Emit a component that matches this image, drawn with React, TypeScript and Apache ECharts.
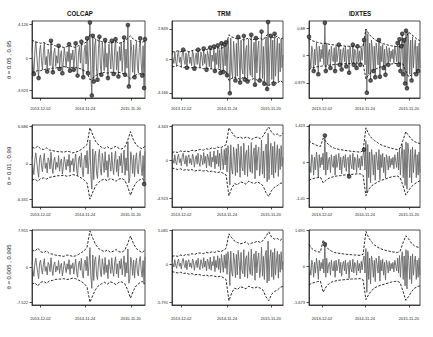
import React, { useEffect, useRef } from "react";
import * as echarts from "echarts";

const columnTitles = ["COLCAP", "TRM", "IDXTES"];
const rowTitles = ["θ = 0.05 , 0.95", "θ = 0.01 , 0.99", "θ = 0.005 , 0.995"];
const xTickLabels = ["2013-12-02", "2014-11-24", "2015-11-20"];
const xTickIndex = [[9, 56, 104], [10, 59, 106], [14, 60, 107]];

// y tick values [top, bottom] per row, per column
const yTicks = [
  [[4.126, -3.923], [2.849, -3.166], [0.88, -0.879]],
  [[6.686, -6.331], [4.343, -4.923], [1.423, -1.41]],
  [[7.951, -7.522], [5.081, -5.791], [1.691, -1.673]],
];

const colcapReturns = [
  1.3, -0.6, -1.9, 0.8, 2.0, 0.4, -1.1, -2.4, 0.9, 1.6,
  -0.3, -1.4, 0.7, 1.9, -0.8, 0.2, -1.6, 1.1, 0.5, -0.9,
  2.1, -0.4, -1.7, 0.6, 1.2, -1.0, 0.3, -0.6, 1.5, -1.3,
  0.4, 0.9, -1.8, -0.5, 1.3, 0.2, -1.1, 0.8, -0.4, 1.7,
  -1.5, 0.6, -0.2, 1.0, -1.4, 0.3, 1.8, -0.9, -2.1, 0.7,
  1.4, -0.6, 2.0, -1.2, -2.3, 0.9, 1.6, -0.7, 2.4, -1.8,
  0.5, 4.3, -1.9, -4.5, 2.7, -2.8, 1.5, 2.3, -1.6, -2.6,
  1.2, 2.6, -0.8, -2.0, 1.9, 0.4, -1.5, 2.2, -1.1, 0.6,
  -2.4, 1.7, 0.3, -1.3, 2.1, -0.5, -1.9, 1.0, 2.3, -1.4,
  0.8, -2.2, 1.4, -0.3, 1.9, -1.6, 0.5, 2.5, -2.0, 1.1,
  -1.2, 4.0, -3.4, -2.5, 2.2, 0.9, -1.7, 1.6, -2.3, 0.7,
  2.0, -1.0, -1.8, 1.3, 2.4, -0.6, -2.1, 1.5, -3.6, 2.3,
];
const trmReturns = [
  0.5, 0.1, -0.4, 0.7, -0.2, -0.6, 0.4, 0.8, -0.3, 0.2,
  -0.7, 0.5, 0.9, -0.1, -0.5, 0.6, -0.8, 0.3, 0.7, -0.4,
  0.2, -0.6, 0.8, 0.4, -0.9, 0.1, 0.6, -0.5, 0.9, -0.3,
  -0.8, 0.7, 0.2, -0.6, 1.0, -0.4, 0.5, -1.0, 0.8, 0.3,
  -0.7, 1.1, -0.9, 0.4, -0.2, 1.2, -1.1, 0.6, -0.5, 1.3,
  -0.8, 0.9, -1.3, 1.5, 0.2, -1.2, 1.4, -0.6, 1.6, -1.5,
  1.9, 0.6, -3.2, 2.0, -1.1, -1.8, 1.7, 0.5, -2.0, 1.5,
  -1.6, 2.1, 0.4, -2.2, 1.8, -0.9, -1.4, 2.2, -1.9, 0.8,
  1.3, -2.1, 1.9, -0.7, -1.5, 2.3, -1.7, 0.6, 1.6, -2.4,
  2.0, -1.3, 0.9, 1.7, -2.0, -0.6, 2.6, -1.8, 1.2, -2.3,
  1.4, 2.1, -2.8, 3.5, -2.5, 0.7, 2.2, -1.9, 1.8, -2.3,
  2.4, -1.6, 0.5, 2.0, -2.1, 1.5, -1.2, 1.9, -0.8, 0.4,
];
const idxtesReturns = [
  0.6, -0.1, -0.4, 0.3, 0.1, -0.5, 0.2, -0.3, 0.4, 0.05,
  -0.6, 0.3, -0.2, 0.2, -0.1, 0.35, -0.3, 1.05, -0.5, 0.4,
  -0.3, 0.1, 0.2, -0.4, 0.3, -0.1, -0.2, 0.25, -0.5, 0.3,
  -0.2, 0.05, 0.35, -0.3, 0.2, -0.45, 0.1, 0.25, -0.2, 0.3,
  -0.35, 0.15, 0.2, -0.55, 0.3, -0.1, -0.25, 0.35, -0.3, 0.2,
  0.1, -0.4, 0.3, -0.2, 0.15, -0.3, 0.25, -0.15, 0.3, 0.5,
  -0.3, 0.85, -1.2, 0.7, -0.6, 0.4, -0.8, 0.5, 0.2, -0.5,
  0.3, -0.7, 0.4, 0.1, -0.3, 0.5, -0.68, 0.3, -0.2, 0.35,
  -0.4, 0.2, -0.62, 0.3, 0.1, -0.3, 0.25, -0.2, 0.15, -0.1,
  0.2, -0.25, 0.3, 0.05, -0.2, 0.4, -0.3, 0.52, -0.5, 0.3,
  0.7, -0.6, 0.5, -0.9, 0.8, -1.05, 0.75, 0.3, -0.6, 0.5,
  -0.8, 0.6, -0.4, 0.2, 0.5, -0.6, 0.3, -0.5, 0.4, -0.4,
];

// bands, row 1 (0.05, 0.95)
const colcapUpper1 = [2.2, 2.0, 1.9, 1.8, 1.9, 1.7, 1.6, 1.7, 1.5, 1.4, 1.4, 1.3, 1.4, 1.5, 1.4, 1.3, 1.5, 1.6, 1.8, 2.0, 2.9, 2.6, 2.3, 2.1, 2.0, 1.9, 2.0, 1.8, 1.9, 2.0, 1.8, 1.9, 2.1, 2.4, 2.7, 2.3, 2.1, 2.0, 1.9, 2.1];
const colcapLower1 = [-1.7, -1.6, -1.5, -1.5, -1.4, -1.3, -1.3, -1.2, -1.2, -1.1, -1.1, -1.0, -1.1, -1.2, -1.1, -1.1, -1.2, -1.3, -1.5, -1.7, -2.6, -2.4, -2.1, -1.9, -1.8, -1.7, -1.8, -1.7, -1.7, -1.8, -1.7, -1.8, -1.9, -2.2, -2.5, -2.2, -2.0, -1.9, -1.8, -2.0];
const trmUpper1 = [0.7, 0.7, 0.8, 0.7, 0.8, 0.8, 0.7, 0.8, 0.9, 0.8, 0.9, 0.8, 0.9, 1.0, 0.9, 1.0, 1.1, 1.0, 1.1, 1.3, 2.3, 2.1, 2.0, 1.9, 2.0, 1.8, 1.9, 2.0, 1.8, 1.9, 1.9, 2.0, 1.8, 2.2, 2.4, 2.1, 2.0, 2.2, 1.9, 2.0];
const trmLower1 = [-0.7, -0.7, -0.6, -0.7, -0.8, -0.7, -0.8, -0.8, -0.7, -0.8, -0.8, -0.9, -0.8, -0.9, -0.9, -1.0, -0.9, -1.0, -1.1, -1.2, -2.0, -1.8, -1.7, -1.8, -1.9, -1.7, -1.8, -2.0, -1.9, -1.8, -2.0, -1.9, -2.1, -2.3, -2.5, -2.2, -2.1, -2.3, -2.0, -2.2];
const idxtesUpper1 = [0.55, 0.48, 0.45, 0.42, 0.40, 0.38, 0.40, 0.36, 0.35, 0.34, 0.33, 0.32, 0.31, 0.30, 0.30, 0.29, 0.28, 0.28, 0.27, 0.30, 0.85, 0.70, 0.60, 0.52, 0.46, 0.42, 0.38, 0.36, 0.33, 0.31, 0.30, 0.29, 0.28, 0.30, 0.55, 0.75, 0.68, 0.60, 0.52, 0.48];
const idxtesLower1 = [-0.45, -0.40, -0.38, -0.36, -0.35, -0.33, -0.34, -0.31, -0.30, -0.29, -0.28, -0.28, -0.27, -0.26, -0.26, -0.25, -0.25, -0.24, -0.24, -0.27, -0.75, -0.62, -0.53, -0.46, -0.41, -0.37, -0.34, -0.31, -0.29, -0.27, -0.26, -0.25, -0.24, -0.27, -0.50, -0.68, -0.62, -0.55, -0.48, -0.44];

// bands, row 2 (0.01, 0.99)
const colcapUpper2 = [3.0, 2.8, 3.2, 2.7, 2.6, 2.9, 2.5, 2.4, 2.3, 2.2, 2.2, 2.1, 2.3, 2.2, 2.0, 2.1, 2.3, 2.6, 3.0, 3.5, 6.5, 5.2, 4.0, 3.4, 3.0, 2.8, 3.1, 2.7, 2.9, 3.2, 2.8, 2.7, 3.0, 4.2, 5.8, 4.3, 3.4, 3.0, 2.7, 3.2];
const colcapLower2 = [-2.9, -2.7, -3.1, -2.6, -2.5, -2.7, -2.4, -2.3, -2.2, -2.1, -2.1, -2.0, -2.2, -2.1, -1.9, -2.0, -2.2, -2.5, -2.9, -3.4, -6.3, -5.0, -3.9, -3.3, -2.9, -2.7, -3.0, -2.6, -2.8, -3.1, -2.7, -2.6, -2.9, -4.0, -5.6, -4.2, -3.3, -2.9, -2.6, -3.1];
const trmUpper2 = [1.0, 1.1, 1.0, 1.2, 1.1, 1.2, 1.1, 1.3, 1.2, 1.3, 1.4, 1.3, 1.5, 1.4, 1.6, 1.5, 1.7, 1.6, 1.8, 2.0, 4.2, 3.6, 3.1, 2.9, 3.0, 2.8, 3.0, 2.9, 2.7, 2.9, 3.0, 2.8, 3.1, 3.8, 4.3, 3.6, 3.3, 3.4, 3.1, 3.5];
const trmLower2 = [-1.0, -1.1, -1.2, -1.1, -1.3, -1.2, -1.3, -1.2, -1.4, -1.3, -1.3, -1.4, -1.3, -1.5, -1.4, -1.5, -1.6, -1.5, -1.7, -1.9, -4.6, -3.6, -3.0, -3.2, -2.8, -2.9, -3.1, -2.7, -2.9, -3.0, -2.8, -3.0, -3.3, -4.2, -4.7, -3.9, -3.5, -3.3, -3.0, -2.9];
const idxtesUpper2 = [0.85, 0.75, 0.70, 0.65, 0.62, 0.95, 0.80, 0.68, 0.60, 0.55, 0.52, 0.50, 0.48, 0.46, 0.45, 0.43, 0.42, 0.41, 0.40, 0.45, 1.35, 1.10, 0.95, 0.85, 0.78, 0.70, 0.65, 0.62, 0.58, 0.55, 0.52, 0.50, 0.55, 0.85, 1.20, 1.05, 0.90, 0.82, 0.76, 0.74];
const idxtesLower2 = [-0.70, -0.65, -0.62, -0.60, -0.58, -0.80, -0.70, -0.62, -0.58, -0.55, -0.53, -0.52, -0.50, -0.49, -0.48, -0.47, -0.46, -0.45, -0.45, -0.50, -1.30, -1.05, -0.92, -0.84, -0.78, -0.72, -0.68, -0.65, -0.60, -0.57, -0.55, -0.53, -0.60, -0.90, -1.28, -1.10, -0.95, -0.85, -0.78, -0.72];

// bands, row 3 (0.005, 0.995)
const colcapUpper3 = [3.8, 3.5, 4.2, 3.4, 3.2, 3.6, 3.0, 2.9, 2.7, 2.6, 2.5, 2.4, 2.7, 2.6, 2.4, 2.5, 2.8, 3.2, 3.6, 4.4, 7.9, 6.3, 4.9, 4.1, 3.7, 3.4, 3.8, 3.3, 3.5, 3.9, 3.4, 3.3, 3.7, 5.1, 6.8, 5.2, 4.1, 3.6, 3.2, 3.8];
const colcapLower3 = [-3.6, -3.3, -4.0, -3.2, -3.0, -3.4, -2.9, -2.8, -2.6, -2.5, -2.5, -2.4, -2.6, -2.5, -2.3, -2.4, -2.7, -3.0, -3.5, -4.2, -7.5, -6.0, -4.7, -3.9, -3.5, -3.2, -3.6, -3.1, -3.3, -3.7, -3.2, -3.1, -3.5, -4.8, -6.6, -5.0, -3.9, -3.4, -3.0, -3.6];
const trmUpper3 = [1.2, 1.3, 1.2, 1.4, 1.3, 1.5, 1.4, 1.6, 1.5, 1.7, 1.7, 1.6, 1.8, 1.7, 1.9, 1.8, 2.0, 1.9, 2.1, 2.4, 4.6, 4.0, 3.5, 3.3, 3.1, 3.2, 3.4, 3.0, 3.2, 3.3, 3.5, 3.3, 3.6, 4.2, 4.9, 4.1, 3.8, 3.9, 3.6, 4.0];
const trmLower3 = [-1.1, -1.2, -1.3, -1.2, -1.4, -1.3, -1.5, -1.4, -1.6, -1.5, -1.6, -1.7, -1.6, -1.8, -1.7, -1.8, -1.9, -1.8, -2.0, -2.3, -5.5, -4.3, -3.6, -3.8, -3.4, -3.5, -3.7, -3.3, -3.5, -3.6, -3.4, -3.6, -3.9, -4.9, -5.5, -4.5, -4.1, -3.9, -3.5, -3.3];
const idxtesUpper3 = [1.05, 0.85, 0.75, 0.70, 0.68, 1.25, 0.95, 0.80, 0.72, 0.66, 0.64, 0.62, 0.60, 0.58, 0.57, 0.56, 0.55, 0.54, 0.53, 0.58, 1.65, 1.35, 1.15, 1.02, 0.92, 0.85, 0.80, 0.76, 0.73, 0.70, 0.68, 0.66, 0.72, 1.10, 1.45, 1.30, 1.10, 0.98, 0.92, 0.90];
const idxtesLower3 = [-0.85, -0.78, -0.74, -0.70, -0.68, -1.20, -0.95, -0.80, -0.72, -0.68, -0.65, -0.63, -0.62, -0.60, -0.59, -0.58, -0.58, -0.57, -0.56, -0.62, -1.55, -1.30, -1.12, -1.00, -0.93, -0.88, -0.84, -0.80, -0.76, -0.72, -0.70, -0.68, -0.75, -1.15, -1.58, -1.40, -1.18, -1.02, -0.94, -0.90];

const returnsByCol = [colcapReturns, trmReturns, idxtesReturns];
const upperBands = [
  [colcapUpper1, trmUpper1, idxtesUpper1],
  [colcapUpper2, trmUpper2, idxtesUpper2],
  [colcapUpper3, trmUpper3, idxtesUpper3],
];
const lowerBands = [
  [colcapLower1, trmLower1, idxtesLower1],
  [colcapLower2, trmLower2, idxtesLower2],
  [colcapLower3, trmLower3, idxtesLower3],
];

// layout
const colLeft = [32, 172, 309];
const colWidth = [113, 111, 111];
const rowTop = [21, 125, 230];
const rowHeight = [77, 82, 75];
const yRange = [
  [[-4.8, 4.49], [-3.65, 3.6], [-1.365, 1.11]],
  [[-7.71, 6.99], [-6.05, 4.56], [-1.746, 1.46]],
  [[-8.1, 8.1], [-6.14, 5.18], [-1.8, 1.72]],
];
const xLabelMargin = [8, 5, 11];
const titleX = [80, 224, 360];
const rowLabelY = [60, 166, 267];

function buildOption() {
  const grid: any[] = [];
  const xAxis: any[] = [];
  const yAxis: any[] = [];
  const series: any[] = [];
  for (let r = 0; r < 3; r++) {
    for (let c = 0; c < 3; c++) {
      const p = r * 3 + c;
      const ret = returnsByCol[c];
      const N = ret.length;
      const up = upperBands[r][c];
      const lo = lowerBands[r][c];
      const M = up.length;
      grid.push({
        left: colLeft[c], top: rowTop[r], width: colWidth[c], height: rowHeight[r],
        show: true, borderColor: "#222", borderWidth: 0.8, backgroundColor: "transparent",
      });
      const ticks = xTickIndex[c];
      xAxis.push({
        type: "value", gridIndex: p, min: 0, max: N - 1,
        axisLine: { show: true, onZero: false, lineStyle: { color: "#222", width: 0.8 } },
        splitLine: { show: false },
        axisTick: { show: true, customValues: ticks, length: 2.5, lineStyle: { color: "#222", width: 0.8 } },
        axisLabel: {
          customValues: ticks,
          formatter: (v: number) => { const k = ticks.indexOf(Math.round(v)); return k >= 0 ? xTickLabels[k] : ""; },
          fontSize: 4, color: "#222", margin: xLabelMargin[r],
        },
      });
      const yt = yTicks[r][c];
      yAxis.push({
        type: "value", gridIndex: p, min: yRange[r][c][0], max: yRange[r][c][1],
        axisLine: { show: true, onZero: false, lineStyle: { color: "#222", width: 0.8 } },
        splitLine: { show: false },
        axisTick: { show: true, customValues: [yt[1], 0, yt[0]], length: 2.5, lineStyle: { color: "#222", width: 0.8 } },
        axisLabel: {
          customValues: [yt[1], 0, yt[0]],
          formatter: (v: number) => String(v),
          fontSize: 4, color: "#222", margin: 4,
        },
      });
      series.push({
        type: "line", xAxisIndex: p, yAxisIndex: p, showSymbol: false, clip: true,
        data: ret.map((v, i) => [i, v]),
        lineStyle: { color: "#666", width: 0.9 }, z: 2,
      });
      const bx = (j: number) => (j * (N - 1)) / (M - 1);
      series.push({
        type: "line", xAxisIndex: p, yAxisIndex: p, showSymbol: false, clip: true,
        data: up.map((v, j) => [bx(j), v]),
        lineStyle: { color: "#111", width: 0.9, type: [2.5, 1.5] }, z: 3,
      });
      series.push({
        type: "line", xAxisIndex: p, yAxisIndex: p, showSymbol: false, clip: true,
        data: lo.map((v, j) => [bx(j), v]),
        lineStyle: { color: "#111", width: 0.9, type: [2.5, 1.5] }, z: 3,
      });
      const exceed: number[][] = [];
      ret.forEach((v, i) => {
        const j = Math.round((i * (M - 1)) / (N - 1));
        if (v > up[j] || v < lo[j]) exceed.push([i, v]);
      });
      series.push({
        type: "scatter", xAxisIndex: p, yAxisIndex: p, clip: true,
        data: exceed, symbol: "emptyCircle", symbolSize: 2.6,
        itemStyle: { color: "#222", borderColor: "#222", borderWidth: 0.7 }, z: 4,
      });
    }
  }
  const graphic: any[] = [];
  columnTitles.forEach((t, c) => {
    graphic.push({
      type: "text", x: titleX[c], y: 13.5, scaleX: 0.82,
      style: { text: t, fontSize: 7.5, fontWeight: "bold", fill: "#111", align: "center", verticalAlign: "middle", fontFamily: "Liberation Sans" },
    });
  });
  rowTitles.forEach((t, r) => {
    graphic.push({
      type: "text", x: 8.5, y: rowLabelY[r], rotation: Math.PI / 2,
      style: { text: t, fontSize: 6, fill: "#222", align: "center", verticalAlign: "middle", fontFamily: "Liberation Sans" },
    });
  });
  return {
    animation: false,
    backgroundColor: "#fff",
    textStyle: { fontFamily: "Liberation Sans" },
    grid, xAxis, yAxis, series, graphic,
  };
}

export default function App() {
  const ref = useRef<HTMLDivElement>(null);
  useEffect(() => {
    const chart = echarts.init(ref.current as HTMLDivElement, undefined, { renderer: "svg" });
    chart.setOption(buildOption() as any);
    return () => chart.dispose();
  }, []);
  return (
    <div
      ref={ref}
      style={{ position: "fixed", left: 0, top: 0, width: 433, height: 337, background: "#fff" }}
    />
  );
}
